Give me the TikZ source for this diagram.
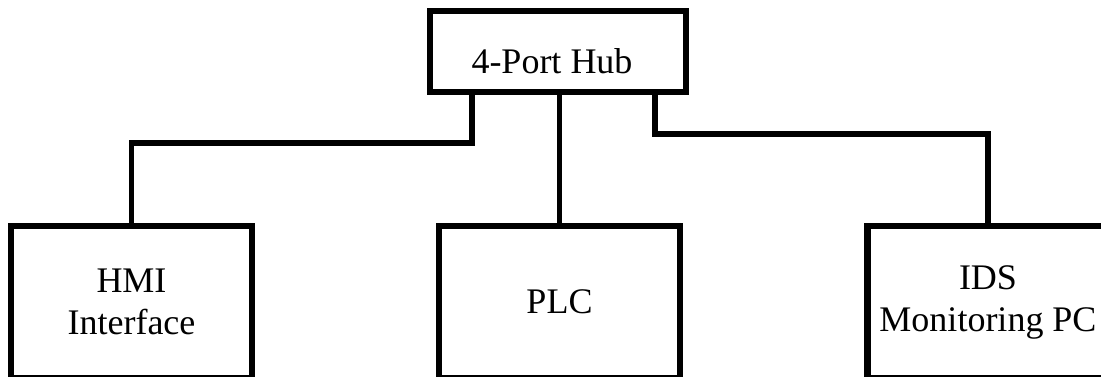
\documentclass[tikz,border=0pt]{standalone}
\usepackage{fontspec}
\setmainfont{Liberation Serif}
\begin{document}
\begin{tikzpicture}[x=1pt,y=-1pt,
  box/.style={draw=black, line width=6.5pt, fill=white, inner sep=0pt,
    minimum width=241pt, minimum height=152pt, align=center,
    font=\fontsize{36}{42}\selectfont},
  hubbox/.style={draw=black, line width=6.5pt, fill=white, inner sep=0pt,
    minimum width=256pt, minimum height=81pt},
  txt/.style={inner sep=0pt, font=\fontsize{36}{42}\selectfont},
  wire/.style={draw=black, line width=5.8pt}]
\useasboundingbox (0,0) rectangle (1101,376);
\clip (0,0) rectangle (1101,376);
\fill[white] (0,0) rectangle (1101,376);
\node[hubbox] (hub) at (558,51.5) {};
\node[txt, anchor=base] (hubtxt) at ([xshift=-6pt,yshift=-21.5pt]hub.center) {4-Port Hub};
\node[box] (hmi) at (131.5,302) {HMI\\Interface};
\node[box] (plc) at (559.5,302) {PLC};
\node[box] (ids) at (988,302) {IDS\\Monitoring PC};
\draw[wire] (hmi.north) -- ++(0,-80) -| ([xshift=45pt]hub.south west);
\draw[wire] (plc.north) -- (plc.north |- hub.south);
\draw[wire] (ids.north) -- ++(0,-89) -| ([xshift=-34pt]hub.south east);
\end{tikzpicture}
\end{document}
